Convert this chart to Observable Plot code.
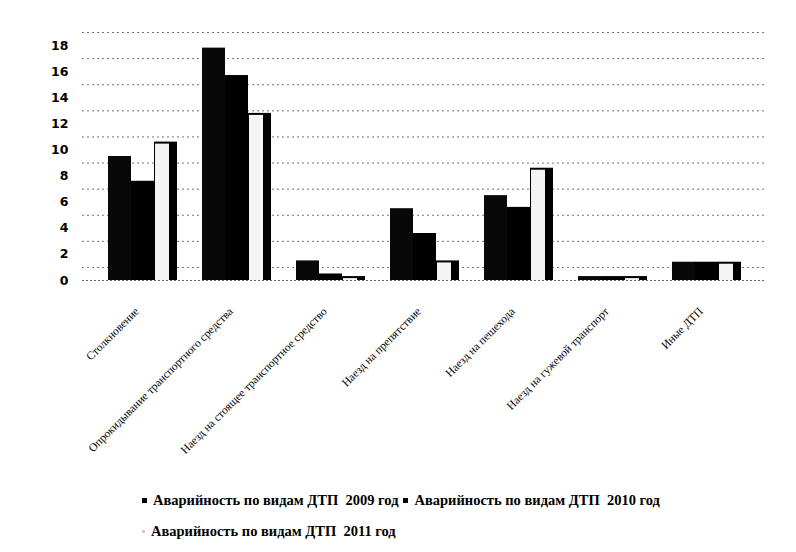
<!DOCTYPE html>
<html>
<head>
<meta charset="utf-8">
<script src="https://cdn.jsdelivr.net/npm/d3@7"></script>
<script src="https://cdn.jsdelivr.net/npm/@observablehq/plot@0.6"></script>
<style>
  html, body { margin: 0; padding: 0; background: #fff; }
  body { width: 796px; height: 552px; position: relative; overflow: hidden; }
  #legend { position: absolute; left: 142px; top: 491px; width: 530px;
    font-family: "Liberation Serif", "DejaVu Serif", serif; font-weight: 700; font-size: 14.5px; line-height: 18px; color: #000;
    display: flex; flex-wrap: wrap; row-gap: 13px; column-gap: 5px; }
  #legend .item { display: flex; align-items: center; white-space: pre; }
  #legend .sw { width: 5px; height: 5px; margin-right: 6px; }
</style>
</head>
<body>
<div id="chart"></div>
<div id="legend"></div>
<script>
const categories = [
  "Столкновение",
  "Опрокидывание транспортного средства",
  "Наезд на стоящее транспортное средство",
  "Наезд на препятствие",
  "Наезд на пешехода",
  "Наезд на гужевой транспорт",
  "Иные ДТП"
];
const seriesNames = [
  "Аварийность по видам ДТП  2009 год",
  "Аварийность по видам ДТП  2010 год",
  "Аварийность по видам ДТП  2011 год"
];
const values2009 = [9.5, 17.8, 1.5, 5.5, 6.5, 0.3, 1.4];
const values2010 = [7.6, 15.7, 0.5, 3.6, 5.6, 0.3, 1.4];
const values2011 = [10.6, 12.8, 0.3, 1.5, 8.6, 0.3, 1.4];
const yTicks = [0, 2, 4, 6, 8, 10, 12, 14, 16, 18];

const rows = categories.map((c, i) => ({
  category: c, v2009: values2009[i], v2010: values2010[i], v2011: values2011[i]
}));

const chart = Plot.plot({
  width: 796,
  height: 480,
  marginTop: 45,
  marginBottom: 200,
  marginLeft: 82,
  marginRight: 30,
  style: { background: "#fff" },
  x: { type: "band", domain: categories, padding: 0.266 },
  y: { domain: [0, 18] },
  marks: [
    Plot.gridY(yTicks, { dy: -13, stroke: "#000", strokeOpacity: 0.55, strokeDasharray: "2,3" }),
    Plot.ruleY([0], { stroke: "#000", strokeOpacity: 0.6, strokeDasharray: "2,2" }),
    Plot.barY(rows, { x: "category", y: "v2009", fill: "#080808", insetRight: 46 }),
    Plot.barY(rows, { x: "category", y: "v2010", fill: "#000", insetLeft: 23, insetRight: 23 }),
    Plot.barY(rows, { x: "category", y: "v2011", fill: "#000", insetLeft: 46 }),
    Plot.barY(rows, { x: "category", y: "v2011", fill: "#f4f4f4", insetLeft: 47, insetRight: 8, insetTop: 2 }),
    Plot.axisY(yTicks, { tickSize: 0, tickPadding: 14, label: null, fontSize: 12.5, fontWeight: "bold", fontFamily: "DejaVu Sans", fill: "#000" }),
    Plot.axisX({ tickSize: 0, tickPadding: 29, tickRotate: -45, textAnchor: "end", dx: -6, label: null, fontSize: 11.5, fontFamily: "Liberation Serif", fill: "#000" })
  ]
});
document.getElementById("chart").appendChild(chart);

const swatchColors = ["#000", "#000", "#ccc"];
const legend = document.getElementById("legend");
seriesNames.forEach((name, i) => {
  const item = document.createElement("div");
  item.className = "item";
  const sw = document.createElement("span");
  sw.className = "sw";
  sw.style.background = swatchColors[i];
  if (i === 2) { sw.style.width = "3px"; sw.style.height = "3px"; }
  item.appendChild(sw);
  const t = document.createElement("span");
  t.textContent = name;
  item.appendChild(t);
  legend.appendChild(item);
});
</script>
</body>
</html>
